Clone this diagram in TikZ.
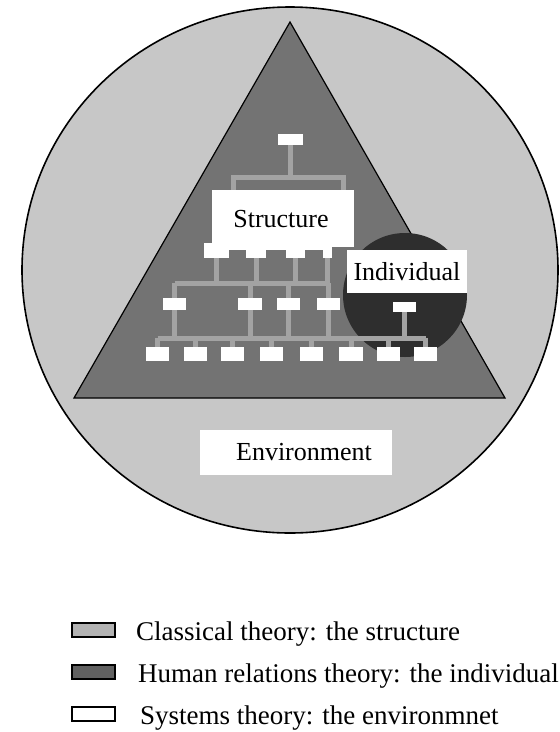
\documentclass[tikz,border=0pt]{standalone}
\usepackage{fontspec}
\setmainfont{Liberation Serif}
\begin{document}
\begin{tikzpicture}[x=1pt,y=-1pt,
  obox/.style={rectangle,fill=white,inner sep=0pt,minimum width=23pt,minimum height=12pt},
  conn/.style={line width=5pt,draw=black!36},
  lbl/.style={inner sep=0pt,font=\fontsize{26}{30}\selectfont},
  legbox/.style={rectangle,draw=black,line width=1.2pt,inner sep=0pt,minimum width=43pt,minimum height=14pt},
  legtext/.style={inner sep=0pt,anchor=base west,font=\fontsize{27}{32}\selectfont}]
\useasboundingbox (0,0) rectangle (560,732);
% environment
\filldraw[fill=black!22,draw=black,line width=1.6pt] (290,270) ellipse [x radius=268,y radius=263];
% triangle
\filldraw[fill=black!55,draw=black,line width=1.2pt] (290,22) -- (505,398) -- (74,398) -- cycle;
% individual dome
\fill[black!82] (405,295) circle [radius=62];
% org chart boxes
\node[obox,minimum width=25pt,minimum height=11pt] (t) at (290.5,139.5) {};
\node[obox] (a1) at (174.5,304) {};
\node[obox] (a2) at (250,304) {};
\node[obox] (a3) at (288.5,304) {};
\node[obox] (a4) at (328.5,304) {};
\node[obox,minimum height=10pt] (ai) at (404.5,307) {};
\foreach \i/\x in {1/157.5,2/195.5,3/232.5,4/271.5,5/311.5,6/351,7/388.5,8/425.5}
  \node[obox,minimum height=13pt] (b\i) at (\x,354) {};
% connector coordinates
\coordinate (h1) at (290.5,177);
\coordinate (h1l) at (233,177);
\coordinate (h1r) at (343,177);
\coordinate (d1l) at (233,200);
\coordinate (d1r) at (343,200);
\foreach \i/\x in {1/216,2/256,3/295,4/327.5} {
  \coordinate (u\i) at (\x,255);
  \coordinate (v\i) at (\x,283);
}
\coordinate (h2l) at (174.5,283);
\coordinate (h2r) at (328.5,283);
\coordinate (h3l) at (157.5,338);
\coordinate (h3r) at (425.5,338);
% connectors
\draw[conn] (t.south) -- (h1);
\draw[conn] (d1l) -- (h1l) -- (h1r) -- (d1r);
\foreach \i in {1,2,3,4} \draw[conn] (u\i) -- (v\i);
\draw[conn] (h2l) -- (h2r);
\foreach \n in {a1,a2,a3,a4} \draw[conn] (h2l -| \n.north) -- (\n.north);
\foreach \n in {a1,a2,a3,a4,ai} \draw[conn] (\n.south) -- (h3l -| \n.south);
\draw[conn] (h3l) -- (h3r);
\foreach \i in {1,...,8} \draw[conn] (h3l -| b\i.north) -- (b\i.north);
% boxes on top of connectors
\foreach \n in {t,a1,a2,a3,a4,ai,b1,b2,b3,b4,b5,b6,b7,b8}
  \fill[white] (\n.north west) rectangle (\n.south east);
% structure label (with teeth)
\fill[white] (212,190) rectangle (354,247);
\fill[white] (204,243) rectangle (332,250);
\fill[white] (204,243) rectangle (229,258);
\fill[white] (246,243) rectangle (266,258);
\fill[white] (286,243) rectangle (305,258);
\fill[white] (323,243) rectangle (332,258);
\node[lbl] (structure) at (281,219) {Structure};
% individual label
\fill[white] (347,250) rectangle (467,293);
\node[lbl] (individual) at (407,272) {Individual};
% environment label
\fill[white] (200,430) rectangle (392,475);
\node[lbl] (environment) at (304,452) {Environment};
% legend
\node[legbox,fill=black!30] (k1) at (93.5,630) {};
\node[legbox,fill=black!62] (k2) at (93.5,672) {};
\node[legbox,fill=white] (k3) at (93.5,714) {};
\node[legtext] (l1) at (136,640) {Classical theory: the structure};
\node[legtext] (l2) at (138,682) {Human relations theory: the individual};
\node[legtext] (l3) at (140,724) {Systems theory: the environmnet};
\end{tikzpicture}
\end{document}
